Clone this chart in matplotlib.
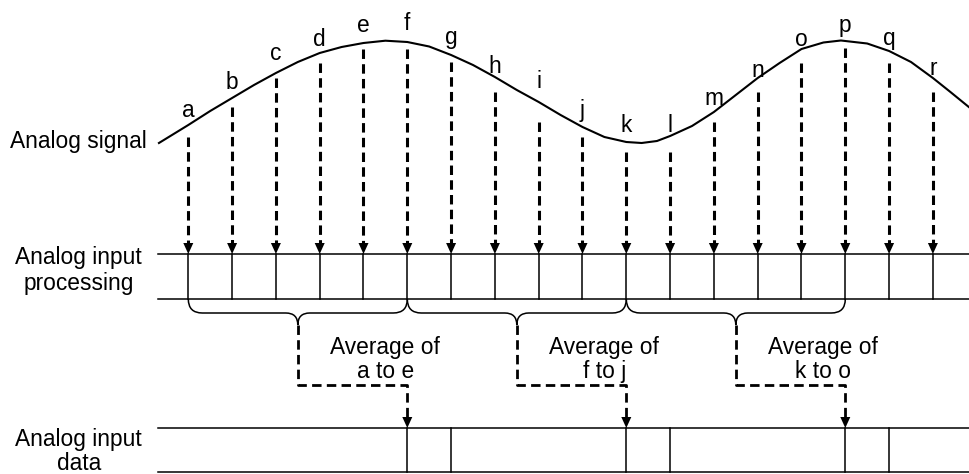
import matplotlib
matplotlib.use("Agg")
import matplotlib.pyplot as plt
from matplotlib.path import Path
from matplotlib.patches import PathPatch

plt.rcParams['font.family'] = ['Liberation Sans', 'DejaVu Sans']
plt.rcParams['lines.scale_dashes'] = False

# sample points (x in sample units)
sample_labels = list("abcdefghijklmnopqr")
sample_t = [0, 1, 2, 3, 4, 5, 6, 7, 8, 9, 10, 11, 12, 13, 14, 15, 16, 17]
label_y = [117, 89, 60, 46, 32, 30, 44, 73, 88, 117, 132, 132, 105, 77, 46, 32, 45, 75]
drop_top = [137, 107, 78, 63, 49, 49, 62, 92, 122, 137, 152, 152, 122, 92, 63, 48, 63, 92]

# analog signal (y grows downwards)
curve_t = [-0.67, 0, 0.5, 1, 1.5, 2, 2.5, 3, 3.5, 4, 4.5, 5, 5.5, 6, 6.5, 7, 7.5, 8,
           8.5, 9, 9.5, 10, 10.35, 10.7, 11, 11.5, 12, 12.5, 13, 13.5, 14, 14.5, 14.9,
           15.5, 16, 16.5, 17, 17.4, 17.82]
curve_y = [143, 125, 111, 98, 85, 73, 62, 53, 47, 43, 40.7, 42, 46.5, 55, 65, 77, 90, 102,
           115, 127, 137, 142, 143, 141, 136, 126, 112, 95, 78, 63, 49, 42.5, 40.5,
           43.5, 51, 62, 78, 92, 107]

# averaging groups: first sample, last+1 sample, text
groups = [(0, 5, "a to e"), (5, 10, "f to j"), (10, 15, "k to o")]

PX = 43.8          # pixels per sample
X0 = 188.3         # pixel of sample a
LEFT = -0.69       # left end of the rails
RIGHT = (969 - X0) / PX
PROC_TOP, PROC_BOT = 254, 299
DATA_TOP, DATA_BOT = 428, 472
BRACE_Y, BRACE_TIP = 313, 325
CONN_Y = 385
FS = 16.4
DASH = (0, (6.8, 3.8))
AH_W, AH_H = 5 / PX, 11


def arrow_head(ax, t, y):
    ax.fill([t - AH_W, t + AH_W, t], [y - AH_H, y - AH_H, y], color="black", lw=0)


fig = plt.figure(figsize=(9.69, 4.74), dpi=100)
ax = fig.add_axes([0, 0, 1, 1])
ax.set_xlim(-X0 / PX, RIGHT)
ax.set_ylim(474, 0)
ax.axis("off")

# signal
ax.plot(curve_t, curve_y, color="black", lw=1.5)
ax.text(-0.94, 148, "Analog signal", ha="right", va="baseline", fontsize=FS)

for t, lab, ly, top in zip(sample_t, sample_labels, label_y, drop_top):
    ax.text(t, ly, lab, ha="center", va="baseline", fontsize=FS)
    ax.plot([t, t], [top, PROC_TOP - AH_H], color="black", lw=2.2,
            linestyle=DASH, dash_capstyle="butt")
    arrow_head(ax, t, PROC_TOP)
    ax.plot([t, t], [PROC_TOP, PROC_BOT], color="black", lw=1.1)

# rails
for y in (PROC_TOP, PROC_BOT, DATA_TOP, DATA_BOT):
    ax.plot([LEFT, RIGHT], [y, y], color="black", lw=1.1)

ax.text(-2.5, 264, "Analog input", ha="center", va="baseline", fontsize=FS)
ax.text(-2.5, 290, "processing", ha="center", va="baseline", fontsize=FS)
ax.text(-2.5, 446, "Analog input", ha="center", va="baseline", fontsize=FS)
ax.text(-2.5, 470, "data", ha="center", va="baseline", fontsize=FS)

# braces, connectors and output data
rx, ry = 14 / PX, 12 / PX
for a, b, txt in groups:
    m = (a + b) / 2
    verts = [(a, PROC_BOT), (a, BRACE_Y), (a + rx, BRACE_Y),
             (m - ry, BRACE_Y), (m, BRACE_Y), (m, BRACE_TIP),
             (m, BRACE_Y), (m + ry, BRACE_Y),
             (b - rx, BRACE_Y), (b, BRACE_Y), (b, PROC_BOT)]
    codes = [Path.MOVETO, Path.CURVE3, Path.CURVE3,
             Path.LINETO, Path.CURVE3, Path.CURVE3,
             Path.CURVE3, Path.CURVE3,
             Path.LINETO, Path.CURVE3, Path.CURVE3]
    ax.add_patch(PathPatch(Path(verts, codes), fill=False, lw=1.1, color="black"))
    ax.plot([m, m, b, b], [BRACE_TIP, CONN_Y, CONN_Y, DATA_TOP - AH_H], color="black",
            lw=2.0, linestyle=DASH, dash_capstyle="butt")
    arrow_head(ax, b, DATA_TOP)
    for t in (b, b + 1):
        ax.plot([t, t], [DATA_TOP, DATA_BOT], color="black", lw=1.1)
    ax.text(m + 2, 354, "Average of", ha="center", va="baseline", fontsize=FS)
    ax.text(m + 2, 378, txt, ha="center", va="baseline", fontsize=FS)

fig.savefig("out.png", dpi=100)
